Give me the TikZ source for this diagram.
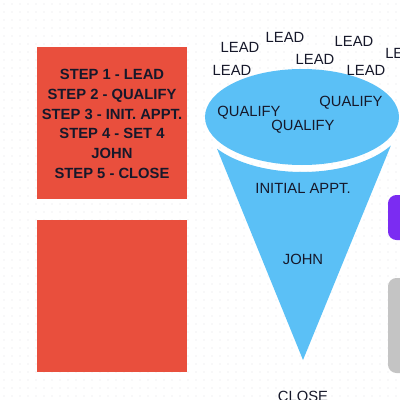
\documentclass[tikz,border=0pt]{standalone}
\usepackage{fontspec}
\setmainfont{Liberation Sans}
\usepackage{xcolor}
\usepackage{tikz}
\definecolor{fnred}{HTML}{E94F3D}
\definecolor{fnblue}{HTML}{5BC0F6}
\definecolor{fnpurple}{HTML}{7B2CF2}
\definecolor{fngray}{HTML}{C4C4C4}
\definecolor{fndot}{HTML}{E4E4E8}
\definecolor{fntext}{HTML}{16182A}

\begin{document}
\begin{tikzpicture}[
  x=0.025cm, y=-0.025cm,
  panel/.style={fill=fnred},
  word/.style={font=\fontsize{10.5}{14}\selectfont, text=fntext, inner sep=0pt},
  steptxt/.style={font=\fontsize{10.5}{14.1}\selectfont\bfseries, text=fntext, align=center, inner sep=0pt},
  side/.style={rounded corners=6pt}
]
\clip (0,0) rectangle (400,400);
\fill[white] (0,0) rectangle (400,400);
% dot grid
\foreach \i in {4,12,...,396}
  \foreach \j in {4,12,...,396}
    \fill[fndot] (\i,\j) circle[radius=0.7];

% left panels
\fill[panel] (37,47) rectangle (187,199);
\fill[panel] (37,220) rectangle (187,372);
\node[steptxt] (steps) at (112,124) {STEP 1 - LEAD\\STEP 2 - QUALIFY\\STEP 3 - INIT. APPT.\\STEP 4 - SET 4\\JOHN\\STEP 5 - CLOSE};

% funnel
\fill[fnblue] (303,360) -- plot[variable=\t, domain=215.2:328.7, samples=50] ({302+104*cos(\t)}, {117-55*sin(\t)}) -- cycle;
\fill[fnblue] (302,117) ellipse [x radius=97, y radius=48];

% side cards
\fill[fnpurple, side] (388,195) rectangle (420,240);
\fill[fngray, side] (388,278) rectangle (420,373);

% words
\node[word] (lead1) at (240,47) {LEAD};
\node[word] (lead2) at (285,37) {LEAD};
\node[word] (lead3) at (315,59) {LEAD};
\node[word] (lead4) at (354,41) {LEAD};
\node[word] (lead5) at (232,70) {LEAD};
\node[word] (lead6) at (366,70) {LEAD};
\node[word, anchor=west] (lead7) at (385,53) {LEAD};
\node[word] (qual1) at (249,113) {QUALIFY};
\node[word] (qual2) at (351,103) {QUALIFY};
\node[word] (qual3) at (303,127) {QUALIFY};
\node[word] (appt) at (303,188) {INITIAL APPT.};
\node[word] (john) at (303,259) {JOHN};
\node[word] (close) at (303,396) {CLOSE};
\end{tikzpicture}
\end{document}
